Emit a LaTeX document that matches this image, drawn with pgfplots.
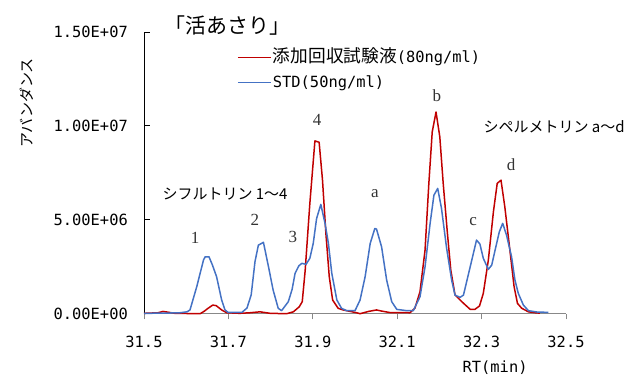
\documentclass[border=0pt]{standalone}
\usepackage{pgfplots}
\pgfplotsset{compat=1.18}
\usepackage{fontspec}
\setmainfont{Noto Sans CJK JP}
\newfontfamily\jp{Noto Sans CJK JP}
\newfontfamily\mono{DejaVu Sans Mono}
\newfontfamily\ser{Liberation Serif}
\definecolor{cred}{HTML}{C00000}
\definecolor{cblue}{HTML}{4472C4}
\definecolor{axgray}{HTML}{888888}
\newcommand{\mf}{\mono\fontsize{15.4bp}{18bp}\selectfont}
\newcommand{\jf}{\jp\fontsize{17.7bp}{20bp}\selectfont}
\newcommand{\pk}{\ser\fontsize{17bp}{20bp}\selectfont}
\newcommand{\an}{\jp\fontsize{15bp}{17bp}\selectfont}
\begin{document}
\begin{tikzpicture}
\path[use as bounding box] (0,0) rectangle (636bp,377bp);
\begin{axis}[
  at={(144bp,63.3bp)}, anchor=south west,
  scale only axis, width=422bp, height=281.7bp,
  xmin=31.5, xmax=32.5, ymin=0, ymax=15,
  axis lines=left,
  axis line style={-},
  x axis line style={axgray, line width=0.8bp},
  y axis line style={black, line width=0.8bp},
  xtick={31.5,31.7,31.9,32.1,32.3,32.5},
  xticklabels={31.5,31.7,31.9,32.1,32.3,32.5},
  ytick={0,5,10,15},
  yticklabels={0.00E+00,5.00E+06,1.00E+07,1.50E+07},
  tick align=inside,
  major tick length=5.7bp,
  xtick style={axgray, line width=0.8bp, yshift=-5.7bp},
  ytick style={black, line width=0.8bp},
  xticklabel style={font=\mf, anchor=center, inner sep=0pt, yshift=-28bp},
  yticklabel style={font=\mf, anchor=east, inner sep=0pt, xshift=-16bp},
  xlabel={RT(min)},
  ylabel={アバンダンス},
  every axis x label/.style={at={(rel axis cs:0.832,-0.193)}, anchor=center, font=\mf},
  every axis y label/.style={at={(rel axis cs:-0.277,0.748)}, anchor=center, rotate=90, font=\jp\fontsize{15bp}{17bp}\selectfont},
  clip=false,
  legend style={draw=none, fill=none, at={(rel axis cs:0.2204,0.945)}, anchor=north west,
    inner sep=0pt, row sep=5bp,
    nodes={inner sep=1.5bp, text height=13bp, text depth=4bp}},
  legend cell align=left,
  legend image code/.code={\draw[#1, line width=1.2bp] (0bp,0bp) -- (33bp,0bp);},
]
\addplot[cred, line width=1.5bp, line join=round] coordinates {
(31.500,0.02) (31.533,0.05) (31.545,0.12) (31.557,0.08) (31.573,0.02)
(31.633,0.00) (31.642,0.12) (31.652,0.29) (31.663,0.46) (31.671,0.43)
(31.684,0.20) (31.696,0.05) (31.727,0.02) (31.751,0.05) (31.775,0.10)
(31.799,0.02) (31.838,0.00) (31.854,0.10) (31.868,0.37) (31.875,0.64)
(31.882,2.32) (31.893,5.87) (31.905,9.20) (31.915,9.13) (31.923,7.11)
(31.931,4.28) (31.939,1.97) (31.947,0.73) (31.960,0.29) (31.972,0.20)
(32.004,0.05) (32.012,0.00) (32.032,0.12) (32.051,0.20) (32.063,0.14)
(32.083,0.06) (32.130,0.05) (32.142,0.29) (32.154,1.17) (32.166,3.39)
(32.175,6.94) (32.183,9.68) (32.192,10.74) (32.201,9.41) (32.209,6.94)
(32.219,4.28) (32.227,2.32) (32.237,1.00) (32.253,0.64) (32.273,0.23)
(32.284,0.23) (32.295,0.41) (32.304,1.08) (32.316,2.86) (32.328,5.43)
(32.337,6.94) (32.346,7.11) (32.355,5.69) (32.367,3.39) (32.377,1.44)
(32.385,0.55) (32.395,0.29) (32.411,0.10) (32.427,0.05) (32.438,0.03)
};
\addlegendentry{{\jf 添加回収試験液}{\mf (80ng/ml)}}
\addplot[cblue, line width=1.5bp, line join=round] coordinates {
(31.500,0.02) (31.550,0.03) (31.585,0.05) (31.602,0.10) (31.609,0.20)
(31.625,1.44) (31.641,2.86) (31.645,3.03) (31.654,3.03) (31.662,2.60)
(31.672,1.97) (31.684,0.73) (31.692,0.20) (31.699,0.07) (31.732,0.07)
(31.744,0.30) (31.754,1.00) (31.763,2.77) (31.771,3.65) (31.783,3.80)
(31.795,2.50) (31.806,1.26) (31.818,0.29) (31.826,0.16) (31.842,0.64)
(31.851,1.30) (31.858,2.15) (31.867,2.55) (31.874,2.68) (31.884,2.63)
(31.893,2.95) (31.901,3.74) (31.909,5.07) (31.919,5.82) (31.929,4.81)
(31.937,3.74) (31.945,2.15) (31.957,0.73) (31.968,0.29) (31.980,0.16)
(32.000,0.16) (32.012,0.73) (32.024,1.97) (32.036,3.74) (32.047,4.54)
(32.051,4.50) (32.063,3.56) (32.075,1.79) (32.087,0.64) (32.099,0.23)
(32.123,0.16) (32.138,0.16) (32.154,0.90) (32.166,2.50) (32.178,4.81)
(32.187,6.31) (32.196,6.67) (32.205,5.60) (32.217,3.50) (32.229,1.79)
(32.237,0.99) (32.249,0.87) (32.257,0.99) (32.273,2.50) (32.288,3.92)
(32.296,3.71) (32.304,2.95) (32.316,2.36) (32.324,2.59) (32.332,3.39)
(32.342,4.36) (32.350,4.81) (32.359,4.19) (32.371,3.03) (32.379,1.79)
(32.387,1.08) (32.399,0.46) (32.411,0.16) (32.431,0.09) (32.458,0.07)
};
\addlegendentry{\mf STD(50ng/ml)}
\node[font=\jp\fontsize{21bp}{24bp}\selectfont, anchor=center] at (axis cs:31.699,15.36) {「活あさり」};
\node[font=\an, anchor=center] at (axis cs:31.692,6.36) {シフルトリン 1～4};
\node[font=\an, anchor=center] at (axis cs:32.472,9.93) {シペルメトリン a～d};
\node[font=\pk, text=black!80, anchor=center] at (axis cs:31.621,4.03) {1};
\node[font=\pk, text=black!80, anchor=center] at (axis cs:31.763,4.98) {2};
\node[font=\pk, text=black!80, anchor=center] at (axis cs:31.853,4.08) {3};
\node[font=\pk, text=black!80, anchor=center] at (axis cs:31.910,10.30) {4};
\node[font=\pk, text=black!80, anchor=center] at (axis cs:32.047,6.42) {a};
\node[font=\pk, text=black!80, anchor=center] at (axis cs:32.194,11.63) {b};
\node[font=\pk, text=black!80, anchor=center] at (axis cs:32.280,4.93) {c};
\node[font=\pk, text=black!80, anchor=center] at (axis cs:32.370,7.91) {d};
\end{axis}
\end{tikzpicture}
\end{document}
